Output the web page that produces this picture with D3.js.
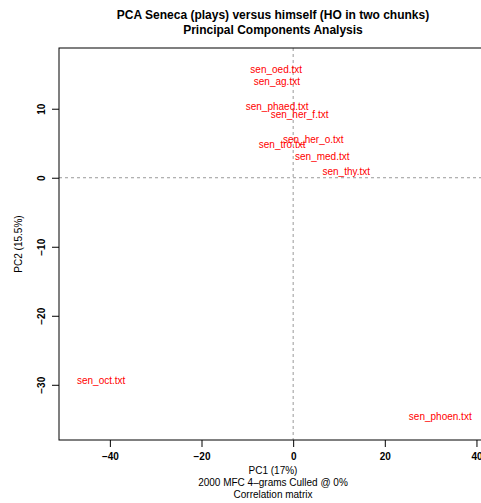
<!DOCTYPE html>
<html><head><meta charset="utf-8">
<script src="https://cdn.jsdelivr.net/npm/d3@7"></script>
<style>body{margin:0;background:#fff}svg{display:block;font-family:"Liberation Sans",Arial,sans-serif}</style>
</head><body><div id="chart"></div>
<script>
const labels = ["sen_oed.txt","sen_ag.txt","sen_phaed.txt","sen_her_f.txt","sen_her_o.txt","sen_tro.txt","sen_med.txt","sen_thy.txt","sen_oct.txt","sen_phoen.txt"];
const pc1 = [-3.7,-3.55,-3.5,1.4,4.4,-2.4,6.35,11.6,-41.9,32.1];
const pc2 = [15.75,13.9,10.3,9.2,5.6,4.85,3.1,0.95,-29.45,-34.65];
const xTicks = [-40,-20,0,20,40];
const yTicks = [-30,-20,-10,0,10];
const titleLines = ["PCA Seneca (plays) versus himself (HO in two chunks)","Principal Components Analysis"];
const xLabelLines = ["PC1 (17%)","2000 MFC 4\u2013grams Culled @ 0%","Correlation matrix"];
const yLabel = "PC2 (15.5%)";

const W=481,H=503;
const L=59,R=487,T=48,B=440;
const x=d3.scaleLinear().domain([-51.1,42.3]).range([L,R]);
const y=d3.scaleLinear().domain([-38.0,18.8]).range([B,T]);
const svg=d3.select("#chart").append("svg").attr("width",W).attr("height",H);

// dashed zero lines
svg.append("line").attr("x1",x(0)).attr("x2",x(0)).attr("y1",T).attr("y2",B)
  .attr("stroke","#999").attr("stroke-dasharray","3,3");
svg.append("line").attr("x1",L).attr("x2",R).attr("y1",y(0)).attr("y2",y(0))
  .attr("stroke","#999").attr("stroke-dasharray","3,3");

// labels
svg.append("g").selectAll("text").data(labels).join("text")
  .attr("x",(d,i)=>x(pc1[i])).attr("y",(d,i)=>y(pc2[i]))
  .attr("text-anchor","middle").attr("dominant-baseline","central")
  .attr("font-size",10).attr("fill","#ff0000").text(d=>d);

// box
svg.append("rect").attr("x",L).attr("y",T).attr("width",R-L).attr("height",B-T)
  .attr("fill","none").attr("stroke","#000").attr("stroke-width",1);

const fmt = d=>d3.format("")(d).replace("-","\u2212");
// axes
const xa=svg.append("g").attr("transform",`translate(0,${B})`)
  .call(d3.axisBottom(x).tickValues(xTicks).tickSize(7).tickPadding(6).tickFormat(fmt));
xa.select(".domain").remove();
xa.selectAll("text").attr("font-size",10).attr("font-weight","bold").attr("font-family","Liberation Sans, Arial, sans-serif").attr("fill","#000");
xa.selectAll("line").attr("stroke","#000");

const ya=svg.append("g").attr("transform",`translate(${L},0)`)
  .call(d3.axisLeft(y).tickValues(yTicks).tickSize(7).tickFormat(fmt));
ya.select(".domain").remove();
ya.selectAll("line").attr("stroke","#000");
ya.selectAll("text").attr("font-size",10).attr("font-weight","bold").attr("font-family","Liberation Sans, Arial, sans-serif").attr("fill","#000")
  .attr("x",0).attr("y",0).attr("dy",null)
  .attr("text-anchor","middle").attr("dominant-baseline","central")
  .attr("transform",`translate(${41-L},0) rotate(-90)`);

// title
svg.append("g").selectAll("text").data(titleLines).join("text")
  .attr("x",(L+R)/2).attr("y",(d,i)=>15+i*15).attr("text-anchor","middle").attr("dominant-baseline","central")
  .attr("font-size",12).attr("font-weight","bold").text(d=>d);

// x labels
svg.append("g").selectAll("text").data(xLabelLines).join("text")
  .attr("x",(L+R)/2).attr("y",(d,i)=>470.5+i*11.8).attr("text-anchor","middle").attr("dominant-baseline","central")
  .attr("font-size",10).text(d=>d);

// y label
svg.append("text").attr("transform",`translate(18,${(T+B)/2}) rotate(-90)`)
  .attr("text-anchor","middle").attr("dominant-baseline","central").attr("font-size",10).text(yLabel);
</script></body></html>
